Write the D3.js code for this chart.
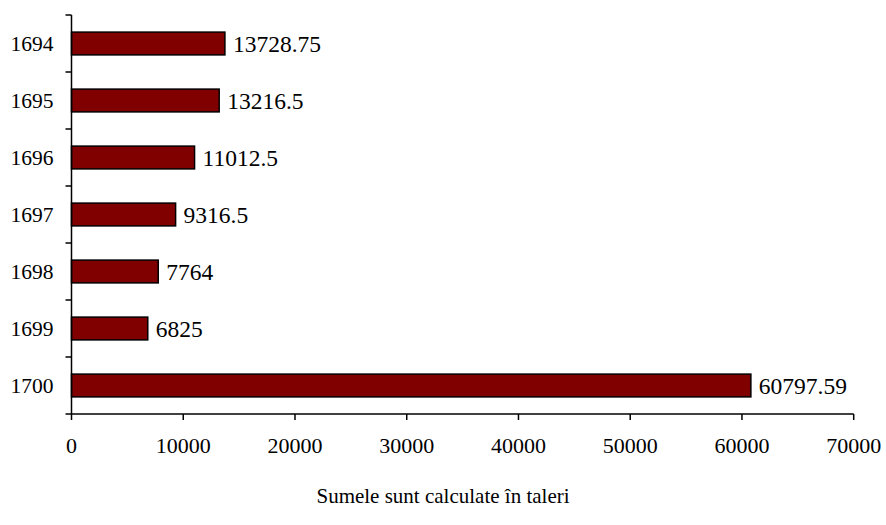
<!DOCTYPE html>
<html><head><meta charset="utf-8">
<script src="https://cdn.jsdelivr.net/npm/d3@7"></script>
<style>body{margin:0;background:#fff}svg{display:block}</style>
</head><body>
<script>
const years = ["1694","1695","1696","1697","1698","1699","1700"];
const values = [13728.75, 13216.5, 11012.5, 9316.5, 7764, 6825, 60797.59];
const labels = ["13728.75","13216.5","11012.5","9316.5","7764","6825","60797.59"];
const xTicks = [0,10000,20000,30000,40000,50000,60000,70000];
const xTitle = "Sumele sunt calculate în taleri";

const W=886,H=525;
const m={left:71.5,right:886-853.7,top:15,bottom:525-414};
const svg=d3.select("body").append("svg").attr("width",W).attr("height",H);
const x=d3.scaleLinear().domain([0,70000]).range([m.left,W-m.right]);
const y=d3.scaleBand().domain(years).range([m.top,H-m.bottom]).paddingInner(0.6).paddingOuter(0.3);
const yAxisScale=d3.scaleBand().domain(years).range([m.top,H-m.bottom]);
const font="'Liberation Serif','Times New Roman',serif";

svg.append("g").selectAll("rect").data(years).join("rect")
 .attr("x",x(0)).attr("y",d=>y(d)).attr("width",(d,i)=>x(values[i])-x(0)).attr("height",y.bandwidth())
 .attr("fill","#800000").attr("stroke","#000").attr("stroke-width",1.5);

svg.append("g").selectAll("text").data(years).join("text")
 .attr("x",(d,i)=>x(values[i])+8).attr("y",d=>y(d)+y.bandwidth()/2).attr("dy","0.35em")
 .attr("font-family",font).attr("font-size",23.5).attr("fill","#000").text((d,i)=>labels[i]);

// y axis
const yg=svg.append("g");
yg.append("line").attr("x1",x(0)).attr("x2",x(0)).attr("y1",m.top).attr("y2",H-m.bottom).attr("stroke","#000").attr("stroke-width",1.5);
const yEdges=years.map(d=>yAxisScale(d)).concat([H-m.bottom]);
yg.selectAll(".t").data(yEdges).join("line").attr("x1",x(0)-6).attr("x2",x(0)).attr("y1",d=>d).attr("y2",d=>d).attr("stroke","#000").attr("stroke-width",1.5);
yg.selectAll("text").data(years).join("text")
 .attr("x",x(0)-18).attr("y",d=>yAxisScale(d)+yAxisScale.bandwidth()/2).attr("dy","0.35em").attr("text-anchor","end")
 .attr("font-family",font).attr("font-size",21.5).text(d=>d);

// x axis
const xg=svg.append("g").attr("transform",`translate(0,${H-m.bottom})`);
xg.append("line").attr("x1",x(0)).attr("x2",x(70000)).attr("stroke","#000").attr("stroke-width",1.5);
xg.selectAll("line.t").data(xTicks).join("line").attr("class","t").attr("x1",d=>x(d)).attr("x2",d=>x(d)).attr("y1",0).attr("y2",6).attr("stroke","#000").attr("stroke-width",1.5);
xg.selectAll("text").data(xTicks).join("text").attr("x",d=>x(d)).attr("y",39).attr("text-anchor","middle")
 .attr("font-family",font).attr("font-size",22).text(d=>d);

svg.append("text").attr("x",443).attr("y",503).attr("text-anchor","middle")
 .attr("font-family",font).attr("font-size",21).text(xTitle);
</script>
</body></html>
